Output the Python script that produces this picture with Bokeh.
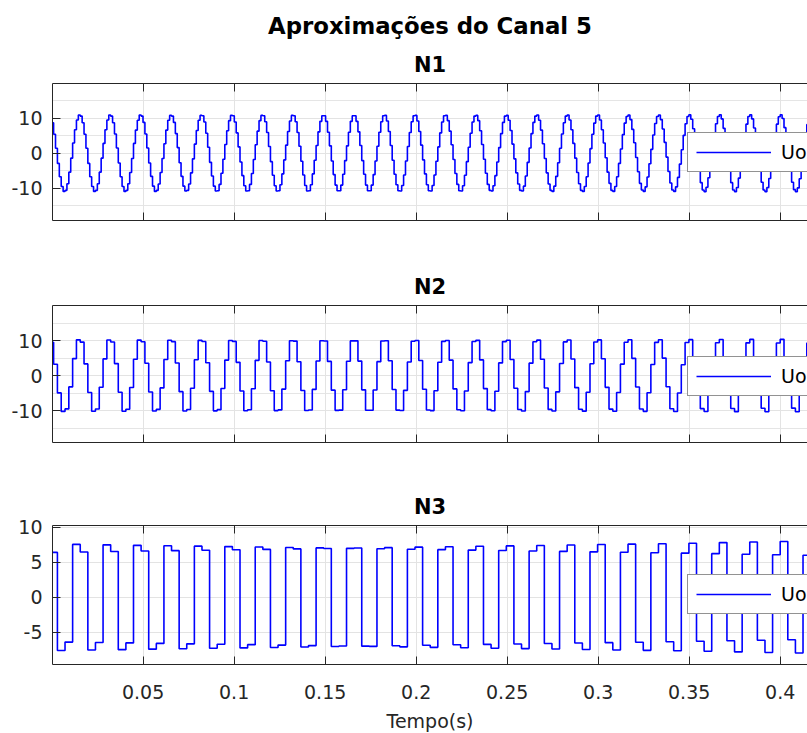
import numpy as np
from bokeh.plotting import figure
from bokeh.layouts import column
from bokeh.models import (FixedTicker, LinearAxis, Title, Legend, LegendItem,
                          Range1d, Grid, CustomLabelingPolicy)
from bokeh.embed import file_html
from bokeh.resources import INLINE

# ---------------------------------------------------------------------------
# Haar approximations (levels N1, N2, N3) of channel 5, one row per 60 Hz cycle.
# Each value is the constant level held over one block of the step signal.
# ---------------------------------------------------------------------------
T_START = -0.00546      # start of the first block (s)
BLOCK_N3 = 0.00418      # block length of level N3 (s); N2 is half, N1 a quarter

# N3: four blocks per cycle
N3_LEVELS = [
    [7.60, 6.40, -7.60, -6.40],
    [7.54, 6.46, -7.54, -6.46],
    [7.48, 6.52, -7.48, -6.52],
    [7.41, 6.59, -7.41, -6.59],
    [7.35, 6.65, -7.35, -6.65],
    [7.29, 6.71, -7.29, -6.71],
    [7.23, 6.77, -7.23, -6.77],
    [7.17, 6.83, -7.17, -6.83],
    [7.10, 6.90, -7.10, -6.90],
    [7.04, 6.96, -7.04, -6.96],
    [6.98, 7.02, -6.98, -7.02],
    [6.92, 7.08, -6.92, -7.08],
    [6.85, 7.15, -6.85, -7.15],
    [6.79, 7.21, -6.79, -7.21],
    [6.73, 7.27, -6.73, -7.27],
    [6.67, 7.33, -6.67, -7.33],
    [6.61, 7.39, -6.61, -7.39],
    [6.54, 7.46, -6.54, -7.46],
    [6.48, 7.52, -6.48, -7.52],
    [6.42, 7.58, -6.42, -7.58],
    [6.36, 7.64, -6.36, -7.64],
    [6.29, 7.71, -6.29, -7.71],
    [6.22, 7.80, -6.22, -7.80],
    [6.14, 7.88, -6.14, -7.88],
    [6.06, 7.95, -6.06, -7.95],
    [6.00, 8.00, -6.00, -8.00],
]

# N2: eight blocks per cycle
N2_LEVELS = [
    [4.94, 10.22, 9.51, 3.23, -4.94, -10.22, -9.51, -3.23],
    [4.85, 10.19, 9.55, 3.33, -4.85, -10.19, -9.55, -3.33],
    [4.76, 10.16, 9.60, 3.42, -4.76, -10.16, -9.60, -3.42],
    [4.68, 10.13, 9.64, 3.51, -4.68, -10.13, -9.64, -3.51],
    [4.59, 10.09, 9.68, 3.60, -4.59, -10.09, -9.68, -3.60],
    [4.51, 10.06, 9.72, 3.68, -4.51, -10.06, -9.72, -3.68],
    [4.42, 10.03, 9.76, 3.77, -4.42, -10.03, -9.76, -3.77],
    [4.34, 10.00, 9.80, 3.86, -4.34, -10.00, -9.80, -3.86],
    [4.25, 9.96, 9.84, 3.95, -4.25, -9.96, -9.84, -3.95],
    [4.16, 9.92, 9.87, 4.04, -4.16, -9.92, -9.87, -4.04],
    [4.07, 9.89, 9.91, 4.13, -4.07, -9.89, -9.91, -4.13],
    [3.98, 9.85, 9.95, 4.22, -3.98, -9.85, -9.95, -4.22],
    [3.89, 9.81, 9.99, 4.31, -3.89, -9.81, -9.99, -4.31],
    [3.80, 9.77, 10.02, 4.40, -3.80, -9.77, -10.02, -4.40],
    [3.71, 9.73, 10.05, 4.48, -3.71, -9.73, -10.05, -4.48],
    [3.62, 9.69, 10.09, 4.57, -3.62, -9.69, -10.09, -4.57],
    [3.54, 9.65, 10.11, 4.65, -3.54, -9.65, -10.11, -4.65],
    [3.45, 9.61, 10.15, 4.74, -3.45, -9.61, -10.15, -4.74],
    [3.36, 9.57, 10.18, 4.82, -3.36, -9.57, -10.18, -4.82],
    [3.26, 9.53, 10.21, 4.91, -3.26, -9.53, -10.21, -4.91],
    [3.17, 9.48, 10.24, 4.99, -3.17, -9.48, -10.24, -4.99],
    [3.08, 9.44, 10.26, 5.08, -3.08, -9.44, -10.26, -5.08],
    [2.99, 9.39, 10.29, 5.16, -2.99, -9.39, -10.29, -5.16],
    [2.89, 9.34, 10.32, 5.25, -2.89, -9.34, -10.32, -5.25],
    [2.80, 9.29, 10.34, 5.33, -2.80, -9.29, -10.34, -5.33],
    [2.72, 9.25, 10.37, 5.41, -2.72, -9.25, -10.37, -5.41],
]

# N1: sixteen blocks per cycle
N1_LEVELS = [
    [2.9, 6.7, 9.5, 10.9, 10.6, 8.7, 5.4, 1.4, -2.9, -6.7, -9.5, -10.9, -10.6, -8.7, -5.4, -1.4],
    [2.9, 6.7, 9.5, 10.9, 10.6, 8.7, 5.4, 1.4, -2.9, -6.7, -9.5, -10.9, -10.6, -8.7, -5.4, -1.4],
    [2.8, 6.7, 9.5, 10.9, 10.6, 8.7, 5.5, 1.5, -2.8, -6.7, -9.5, -10.9, -10.6, -8.7, -5.5, -1.5],
    [2.8, 6.6, 9.4, 10.9, 10.6, 8.8, 5.5, 1.5, -2.8, -6.6, -9.4, -10.9, -10.6, -8.8, -5.5, -1.5],
    [2.7, 6.6, 9.4, 10.8, 10.6, 8.8, 5.6, 1.6, -2.7, -6.6, -9.4, -10.8, -10.6, -8.8, -5.6, -1.6],
    [2.6, 6.5, 9.4, 10.8, 10.7, 8.9, 5.7, 1.7, -2.6, -6.5, -9.4, -10.8, -10.7, -8.9, -5.7, -1.7],
    [2.5, 6.4, 9.3, 10.8, 10.7, 8.9, 5.8, 1.8, -2.5, -6.4, -9.3, -10.8, -10.7, -8.9, -5.8, -1.8],
    [2.4, 6.3, 9.3, 10.8, 10.7, 9.0, 5.9, 1.9, -2.4, -6.3, -9.3, -10.8, -10.7, -9.0, -5.9, -1.9],
    [2.3, 6.2, 9.2, 10.8, 10.7, 9.0, 5.9, 2.0, -2.3, -6.2, -9.2, -10.8, -10.7, -9.0, -5.9, -2.0],
    [2.2, 6.1, 9.1, 10.7, 10.7, 9.1, 6.0, 2.1, -2.2, -6.1, -9.1, -10.7, -10.7, -9.1, -6.0, -2.1],
    [2.1, 6.0, 9.1, 10.7, 10.7, 9.1, 6.1, 2.2, -2.1, -6.0, -9.1, -10.7, -10.7, -9.1, -6.1, -2.2],
    [2.0, 6.0, 9.0, 10.7, 10.8, 9.2, 6.2, 2.2, -2.0, -6.0, -9.0, -10.7, -10.8, -9.2, -6.2, -2.2],
    [1.9, 5.9, 9.0, 10.7, 10.8, 9.2, 6.2, 2.3, -1.9, -5.9, -9.0, -10.7, -10.8, -9.2, -6.2, -2.3],
    [1.8, 5.8, 8.9, 10.7, 10.8, 9.3, 6.3, 2.4, -1.8, -5.8, -8.9, -10.7, -10.8, -9.3, -6.3, -2.4],
    [1.7, 5.7, 8.9, 10.6, 10.8, 9.3, 6.4, 2.5, -1.7, -5.7, -8.9, -10.6, -10.8, -9.3, -6.4, -2.5],
    [1.6, 5.6, 8.8, 10.6, 10.8, 9.4, 6.5, 2.6, -1.6, -5.6, -8.8, -10.6, -10.8, -9.4, -6.5, -2.6],
    [1.5, 5.6, 8.8, 10.6, 10.9, 9.4, 6.6, 2.7, -1.5, -5.6, -8.8, -10.6, -10.9, -9.4, -6.6, -2.7],
    [1.4, 5.5, 8.7, 10.6, 10.9, 9.5, 6.7, 2.8, -1.4, -5.5, -8.7, -10.6, -10.9, -9.5, -6.7, -2.8],
    [1.3, 5.4, 8.6, 10.6, 10.9, 9.5, 6.7, 2.9, -1.3, -5.4, -8.6, -10.6, -10.9, -9.5, -6.7, -2.9],
    [1.2, 5.3, 8.6, 10.5, 10.9, 9.6, 6.8, 3.0, -1.2, -5.3, -8.6, -10.5, -10.9, -9.6, -6.8, -3.0],
    [1.1, 5.2, 8.5, 10.5, 10.9, 9.6, 6.9, 3.1, -1.1, -5.2, -8.5, -10.5, -10.9, -9.6, -6.9, -3.1],
    [1.0, 5.1, 8.4, 10.5, 11.0, 9.7, 7.0, 3.2, -1.0, -5.1, -8.4, -10.5, -11.0, -9.7, -7.0, -3.2],
    [0.9, 5.0, 8.4, 10.5, 11.0, 9.8, 7.1, 3.3, -0.9, -5.0, -8.4, -10.5, -11.0, -9.8, -7.1, -3.3],
    [0.8, 4.9, 8.3, 10.5, 11.0, 9.8, 7.2, 3.4, -0.8, -4.9, -8.3, -10.5, -11.0, -9.8, -7.2, -3.4],
    [0.7, 4.8, 8.3, 10.4, 11.0, 9.9, 7.3, 3.5, -0.7, -4.8, -8.3, -10.4, -11.0, -9.9, -7.3, -3.5],
    [0.6, 4.7, 8.2, 10.4, 11.0, 9.9, 7.4, 3.6, -0.6, -4.7, -8.2, -10.4, -11.0, -9.9, -7.4, -3.6],
]

X_TICKS = [0.05, 0.1, 0.15, 0.2, 0.25, 0.3, 0.35, 0.4]
X_LABELS = ["0.05", "0.1", "0.15", "0.2", "0.25", "0.3", "0.35", "0.4"]
Y_TICKS_N12 = [-10, 0, 10]
Y_LABELS_N12 = ["-10", "0", "10"]
Y_TICKS_N3 = [-5, 0, 5, 10]
Y_LABELS_N3 = ["-5", "0", "5", "10"]

X_START, X_END = 0.0002, 0.4150

MAIN_TITLE = "Aproximações do Canal 5"
X_LABEL = "Tempo(s)"
SERIES_NAME = "Uo"

FONT = "DejaVu Sans"
INK = "#262626"
GRID = "#e3e3e3"
BLUE = "#0000ff"

# tick-only axes (box edges): keep the ticks, drop every label
NO_LABELS = "const all = [...indices]; for (const i of all) indices.unset(i); return indices"


def stairs(levels, block):
    flat = [v for row in levels for v in row]
    t = T_START + block * np.arange(len(flat) + 1)
    return t, flat + [flat[-1]]


def style_axis(ax, show_labels, standoff=10):
    ax.axis_line_color = INK
    ax.axis_line_width = 1
    ax.major_tick_line_color = INK
    ax.major_tick_in = 8
    ax.major_tick_out = 0
    ax.minor_tick_in = 0
    ax.minor_tick_out = 0
    ax.major_label_text_font = FONT
    ax.major_label_text_color = INK
    if show_labels:
        ax.major_label_text_font_size = "19px"
        ax.major_label_standoff = standoff
    else:
        ax.major_label_text_font_size = "0px"
        ax.major_label_standoff = 0
        ax.major_label_policy = CustomLabelingPolicy(code=NO_LABELS)


def panel(name, levels, block, y_lo, y_hi, y_ticks, y_labels, frame_h,
          top, bottom, legend_y, x_labels=False, main_title=None):
    p = figure(frame_width=755, frame_height=frame_h,
               min_border_left=52, min_border_right=0,
               min_border_top=top, min_border_bottom=bottom,
               x_range=Range1d(X_START, X_END), y_range=Range1d(y_lo, y_hi),
               x_axis_location=None, y_axis_location=None,
               output_backend="svg", toolbar_location=None)
    p.outline_line_color = None
    p.background_fill_color = "white"
    p.border_fill_color = "white"

    xt = FixedTicker(ticks=X_TICKS)
    yt = FixedTicker(ticks=y_ticks)
    p.add_layout(Grid(dimension=0, ticker=xt, grid_line_color=GRID, grid_line_width=1))
    p.add_layout(Grid(dimension=1, ticker=yt, grid_line_color=GRID, grid_line_width=1))

    bottom_ax = LinearAxis(ticker=xt)
    style_axis(bottom_ax, x_labels, standoff=20)
    if x_labels:
        bottom_ax.major_label_overrides = dict(zip(X_TICKS, X_LABELS))
        bottom_ax.axis_label = X_LABEL
        bottom_ax.axis_label_text_font = FONT
        bottom_ax.axis_label_text_font_size = "19px"
        bottom_ax.axis_label_text_font_style = "normal"
        bottom_ax.axis_label_text_color = INK
        bottom_ax.axis_label_standoff = 8
    p.add_layout(bottom_ax, "below")

    top_ax = LinearAxis(ticker=xt)
    style_axis(top_ax, False)
    p.add_layout(top_ax, "above")

    left_ax = LinearAxis(ticker=yt)
    style_axis(left_ax, True)
    left_ax.major_label_overrides = dict(zip(y_ticks, y_labels))
    p.add_layout(left_ax, "left")

    p.add_layout(Title(text=name, align="center", text_font=FONT,
                       text_font_size="21px", text_font_style="bold",
                       text_color="black", standoff=14), "above")
    if main_title:
        p.add_layout(Title(text=main_title, align="center", text_font=FONT,
                           text_font_size="22.8px", text_font_style="bold",
                           text_color="black"), "above")

    t, y = stairs(levels, block)
    r = p.step(t, y, mode="after", line_color=BLUE, line_width=1.6)

    legend = Legend(items=[LegendItem(label=SERIES_NAME, renderers=[r])],
                    location=(635, legend_y),
                    border_line_color=INK, border_line_width=1,
                    background_fill_color="white", background_fill_alpha=1.0,
                    glyph_width=75, glyph_height=18, label_height=18,
                    label_standoff=10, padding=8, margin=0, spacing=0,
                    label_text_font=FONT, label_text_font_size="19px",
                    label_text_color="black")
    p.add_layout(legend)
    return p


p1 = panel("N1", N1_LEVELS, BLOCK_N3 / 4, -19.2, 19.9, Y_TICKS_N12, Y_LABELS_N12,
           137, 83, 33, 48, main_title=MAIN_TITLE)
p2 = panel("N2", N2_LEVELS, BLOCK_N3 / 2, -19.1, 20.0, Y_TICKS_N12, Y_LABELS_N12,
           137, 52, 31, 46)
p3 = panel("N3", N3_LEVELS, BLOCK_N3, -9.6, 10.24, Y_TICKS_N3, Y_LABELS_N3,
           139, 52, 69, 50, x_labels=True)

layout = column(p1, p2, p3, spacing=0)
open("out.html", "w").write(file_html(layout, INLINE))
